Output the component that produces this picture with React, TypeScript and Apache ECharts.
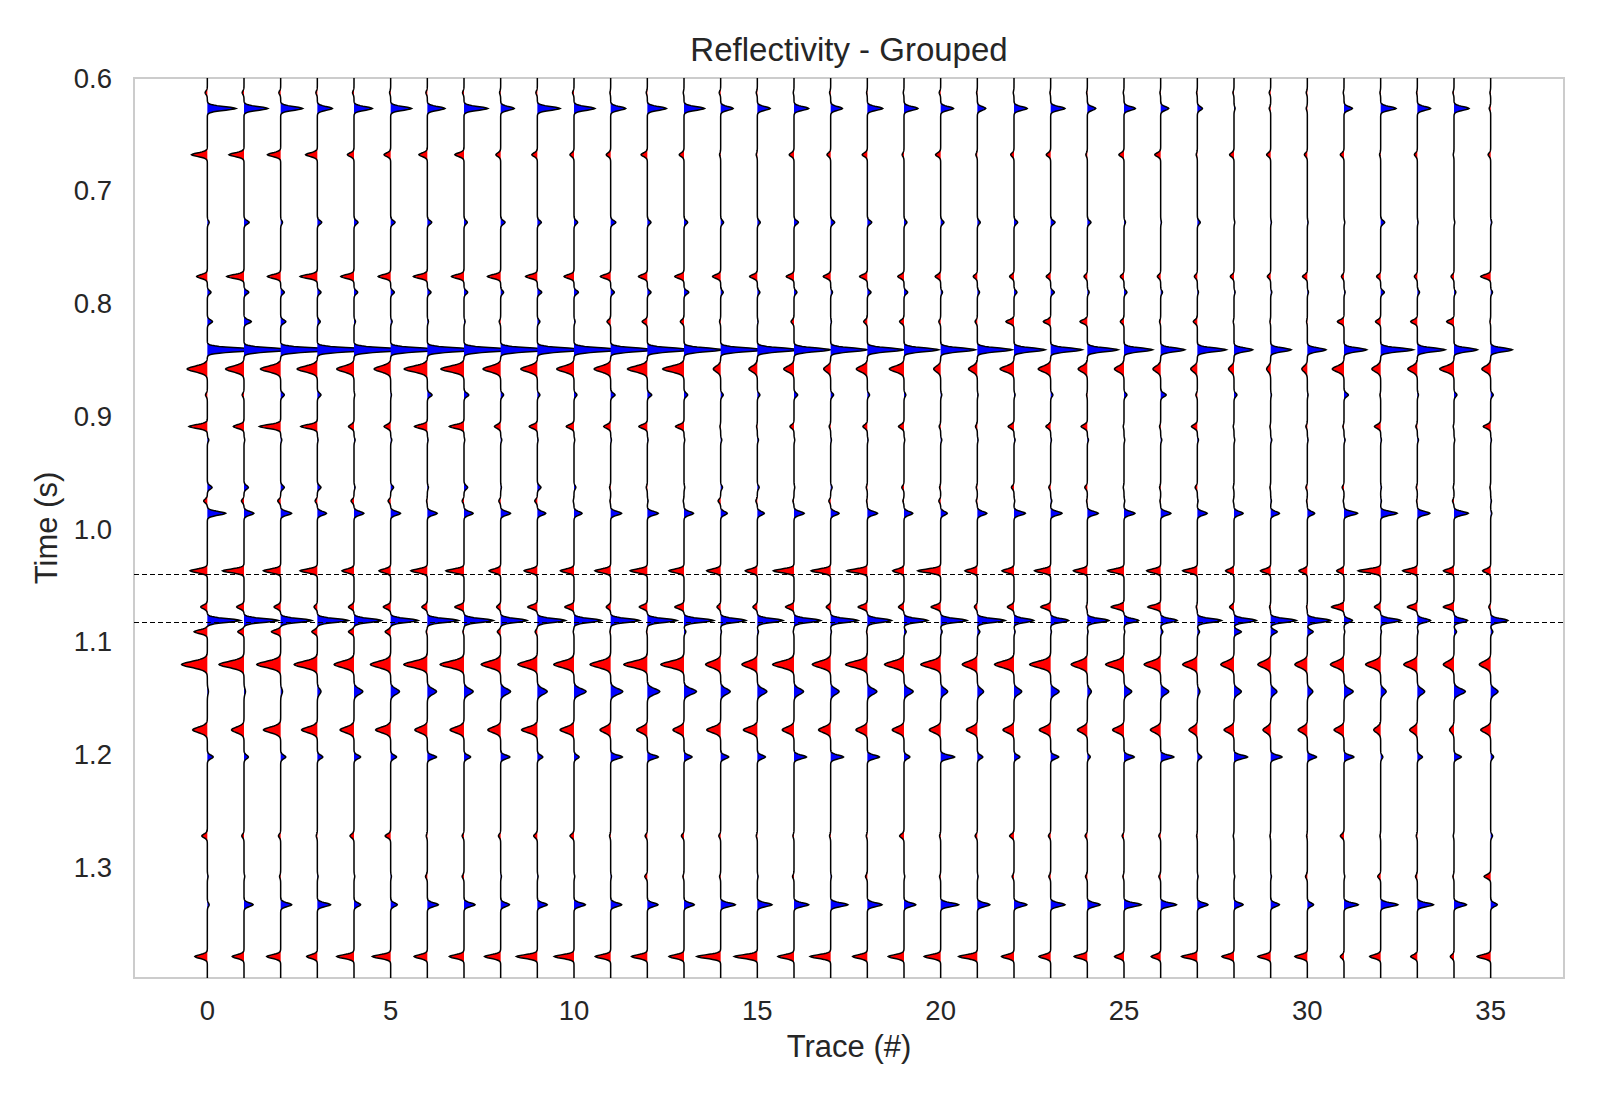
import React, { useEffect, useRef } from "react";
import * as echarts from "echarts";

// ---------- data ----------
const traceNumbers = [0,1,2,3,4,5,6,7,8,9,10,11,12,13,14,15,16,17,18,19,20,21,22,23,24,25,26,27,28,29,30,31,32,33,34,35];
const xTickValues = [0, 5, 10, 15, 20, 25, 30, 35];
const yTickValues = [0.6, 0.7, 0.8, 0.9, 1.0, 1.1, 1.2, 1.3];
const horizonTimes = [1.04, 1.0826];
const timeMin = 0.6;
const timeMax = 1.398;

// reflection times (s)
const eventTimes = [0.613, 0.627, 0.668, 0.728, 0.776, 0.790, 0.816, 0.841, 0.858, 0.881, 0.909, 0.921, 0.963, 0.975, 0.986, 1.037, 1.069, 1.081, 1.091, 1.120, 1.144, 1.178, 1.202, 1.272, 1.308, 1.333, 1.379];
// wavelet half-width per event (s)
const eventSpread = [0.0024, 0.0024, 0.0024, 0.0024, 0.0024, 0.0024, 0.0024, 0.0024, 0.0037, 0.0024, 0.0024, 0.0024, 0.0024, 0.0024, 0.0024, 0.0024, 0.0024, 0.0024, 0.0024, 0.004, 0.0037, 0.0036, 0.0024, 0.0024, 0.0024, 0.0024, 0.0024];

// amplitudes per trace (in trace-spacing units), one array per reflection
const a0613 = [-0.06,-0.05,-0.05,-0.04,-0.04,-0.03,-0.04,-0.04,-0.03,-0.04,-0.04,-0.02,-0.03,-0.02,-0.04,-0.03,-0.02,-0.03,-0.02,-0.02,-0.04,-0.02,-0.02,-0.02,-0.02,-0.02,-0.02,-0.02,-0.03,-0.04,-0.03,-0.02,-0.02,-0.02,-0.03,-0.02];
const a0627 = [0.78,0.65,0.60,0.41,0.50,0.57,0.48,0.65,0.37,0.62,0.57,0.41,0.52,0.56,0.34,0.35,0.40,0.32,0.42,0.38,0.35,0.23,0.36,0.39,0.23,0.31,0.22,0.14,0.03,-0.04,-0.03,0.23,0.42,0.36,0.41,-0.04];
const a0668 = [-0.43,-0.41,-0.36,-0.32,-0.18,-0.18,-0.23,-0.25,-0.13,-0.15,-0.11,-0.12,-0.17,-0.13,-0.03,-0.03,-0.13,-0.10,-0.14,-0.05,-0.14,-0.04,-0.09,-0.12,-0.04,-0.14,-0.16,-0.03,-0.12,-0.11,-0.08,-0.10,-0.03,-0.08,-0.02,-0.07];
const a0728 = [0.05,0.14,0.05,0.12,0.11,0.12,0.12,0.09,0.12,0.11,0.10,0.14,0.10,0.10,0.08,0.08,0.12,0.11,0.12,0.08,0.09,0.08,0.10,0.12,0.10,0.04,0.02,0.08,0.02,0.02,0.02,0.02,0.11,0.02,0.02,0.03];
const a0776 = [-0.29,-0.47,-0.36,-0.47,-0.36,-0.34,-0.38,-0.34,-0.36,-0.32,-0.27,-0.28,-0.24,-0.25,-0.22,-0.21,-0.21,-0.20,-0.21,-0.17,-0.15,-0.11,-0.12,-0.12,-0.09,-0.10,-0.09,-0.08,-0.10,-0.09,-0.13,-0.07,-0.11,-0.08,-0.08,-0.27];
const a0790 = [0.10,0.13,0.10,0.10,0.10,0.10,0.10,0.10,0.08,0.12,0.12,0.10,0.10,0.13,0.07,0.07,0.08,0.05,0.10,0.10,0.05,0.06,0.08,0.10,0.05,0.08,0.05,0.03,0.03,0.03,0.03,0.03,0.10,0.06,0.05,0.05];
const a0816 = [0.14,0.20,0.14,0.08,0.04,0.04,0.03,0.03,-0.04,0.07,0.03,-0.10,-0.14,-0.10,-0.03,0.02,-0.08,0.02,-0.10,-0.12,-0.05,-0.06,-0.22,-0.20,-0.20,-0.10,-0.03,-0.11,-0.02,-0.02,-0.02,-0.18,-0.14,-0.18,-0.20,-0.02];
const a0841 = [1.45,1.30,1.60,1.60,1.50,1.40,1.40,1.40,1.40,1.30,1.30,1.20,1.20,1.05,1.20,1.15,1.00,1.00,1.00,0.95,0.95,0.95,0.85,0.86,0.84,0.78,0.66,0.79,0.51,0.56,0.51,0.62,0.89,0.76,0.64,0.59];
const a0858 = [-0.55,-0.50,-0.55,-0.55,-0.47,-0.45,-0.63,-0.63,-0.48,-0.45,-0.47,-0.45,-0.54,-0.58,-0.20,-0.23,-0.28,-0.19,-0.30,-0.40,-0.19,-0.24,-0.38,-0.34,-0.25,-0.26,-0.21,-0.18,-0.15,-0.11,-0.15,-0.32,-0.24,-0.26,-0.39,-0.24];
const a0881 = [-0.05,-0.05,0.10,0.10,0.02,0.02,0.13,0.13,0.08,0.07,0.08,0.12,0.12,0.10,0.07,0.07,0.10,0.08,0.06,0.05,0.03,0.02,0.03,0.06,-0.02,0.08,0.15,-0.04,0.08,0.02,0.02,0.12,-0.02,0.03,0.08,0.07];
const a0909 = [-0.50,-0.29,-0.58,-0.45,-0.15,-0.18,-0.35,-0.40,-0.17,-0.22,-0.21,-0.19,-0.23,-0.23,-0.02,-0.02,-0.11,-0.04,-0.12,-0.15,-0.04,-0.05,-0.16,-0.13,-0.17,-0.02,-0.03,-0.16,-0.02,-0.02,-0.04,-0.03,-0.17,-0.04,-0.02,-0.20];
const a0921 = [0.04,0.02,0.03,0.02,0.03,0.03,0.02,0.02,0.03,0.02,0.02,0.02,0.02,0.02,0.03,0.03,0.02,0.02,0.02,0.02,0.03,0.02,0.03,0.02,0.03,0.02,0.03,0.03,0.02,0.03,0.02,0.03,0.02,0.03,0.02,0.02];
const a0963 = [0.13,0.12,0.10,0.10,0.03,0.08,0.03,0.10,0.02,0.10,0.05,-0.03,-0.03,0.02,0.05,0.05,0.02,0.04,-0.03,-0.06,-0.03,-0.03,-0.07,-0.05,-0.07,-0.02,-0.03,-0.06,-0.02,-0.02,-0.04,-0.05,0.02,-0.03,-0.02,-0.02];
const a0975 = [-0.10,-0.07,-0.08,-0.06,-0.08,-0.07,-0.02,-0.05,-0.05,-0.07,-0.02,-0.02,0.02,-0.02,-0.07,-0.04,-0.03,-0.05,-0.02,-0.03,-0.05,-0.03,0.02,0.03,-0.02,0.02,-0.02,0.02,-0.02,0.02,-0.02,-0.02,0.02,-0.02,-0.04,0.02];
const a0986 = [0.50,0.27,0.30,0.25,0.27,0.27,0.27,0.25,0.27,0.23,0.22,0.30,0.30,0.26,0.18,0.19,0.28,0.23,0.28,0.24,0.18,0.26,0.31,0.31,0.30,0.30,0.28,0.27,0.25,0.24,0.20,0.37,0.45,0.34,0.39,0.03];
const a1037 = [-0.47,-0.58,-0.47,-0.47,-0.33,-0.32,-0.45,-0.49,-0.32,-0.36,-0.37,-0.43,-0.47,-0.41,-0.38,-0.33,-0.56,-0.53,-0.56,-0.31,-0.62,-0.34,-0.33,-0.44,-0.38,-0.45,-0.38,-0.40,-0.23,-0.28,-0.23,-0.20,-0.61,-0.40,-0.29,-0.22];
const a1069 = [-0.18,-0.20,-0.18,-0.09,-0.15,-0.20,-0.15,-0.25,-0.11,-0.26,-0.25,-0.12,-0.22,-0.25,-0.10,-0.12,-0.23,-0.12,-0.25,-0.15,-0.26,-0.08,-0.18,-0.27,-0.03,-0.35,-0.35,-0.03,-0.12,-0.03,-0.02,-0.34,-0.17,-0.27,-0.29,-0.05];
const a1081 = [0.90,0.94,0.85,0.85,0.75,0.75,0.85,0.80,0.72,0.77,0.75,0.79,0.81,0.81,0.69,0.70,0.73,0.75,0.66,0.65,0.72,0.76,0.54,0.49,0.59,0.40,0.45,0.66,0.61,0.70,0.64,0.23,0.55,0.36,0.37,0.47];
const a1091 = [-0.36,-0.17,-0.25,-0.15,-0.15,-0.15,-0.03,-0.03,-0.09,-0.06,-0.02,-0.02,-0.02,0.05,0.02,0.03,-0.02,0.02,-0.02,0.06,0.04,0.07,0.03,0.02,0.02,0.02,0.06,0.06,0.20,0.18,0.16,0.02,0.02,0.02,0.07,0.06];
const a1120 = [-0.70,-0.68,-0.65,-0.63,-0.54,-0.55,-0.64,-0.65,-0.53,-0.53,-0.55,-0.56,-0.64,-0.63,-0.41,-0.42,-0.58,-0.50,-0.59,-0.53,-0.54,-0.41,-0.53,-0.57,-0.44,-0.50,-0.45,-0.40,-0.36,-0.35,-0.34,-0.37,-0.41,-0.37,-0.29,-0.31];
const a1144 = [0.03,0.04,0.05,0.10,0.24,0.24,0.25,0.25,0.27,0.27,0.33,0.33,0.34,0.34,0.26,0.26,0.26,0.23,0.26,0.25,0.19,0.17,0.21,0.23,0.11,0.21,0.22,0.07,0.20,0.17,0.15,0.25,0.15,0.20,0.31,0.20];
const a1178 = [-0.40,-0.34,-0.47,-0.43,-0.38,-0.41,-0.34,-0.38,-0.35,-0.43,-0.38,-0.29,-0.29,-0.30,-0.38,-0.38,-0.32,-0.33,-0.31,-0.32,-0.31,-0.30,-0.30,-0.31,-0.27,-0.31,-0.28,-0.23,-0.27,-0.21,-0.25,-0.27,-0.19,-0.21,-0.12,-0.27];
const a1202 = [0.16,0.12,0.14,0.15,0.18,0.16,0.25,0.18,0.25,0.15,0.14,0.32,0.30,0.22,0.22,0.22,0.34,0.35,0.33,0.16,0.38,0.15,0.16,0.22,0.08,0.28,0.36,0.12,0.37,0.31,0.25,0.27,0.06,0.14,0.20,0.08];
const a1272 = [-0.15,-0.06,-0.06,-0.03,-0.11,-0.15,-0.03,-0.05,-0.06,-0.10,-0.11,-0.03,-0.06,-0.07,-0.05,-0.03,-0.03,-0.03,-0.03,-0.12,-0.03,-0.06,-0.12,-0.06,-0.06,-0.05,-0.05,-0.02,-0.02,-0.02,-0.02,-0.10,-0.02,-0.03,-0.02,0.05];
const a1308 = [0.02,0.02,-0.03,0.02,0.02,0.02,-0.05,-0.05,0.02,0.02,0.02,0.02,-0.07,-0.03,-0.03,0.02,-0.04,0.02,-0.05,0.02,-0.03,0.02,-0.05,-0.05,-0.05,-0.03,-0.05,0.02,0.02,0.02,-0.05,0.02,-0.08,-0.05,-0.03,-0.18];
const a1333 = [0.05,0.25,0.30,0.36,0.18,0.18,0.30,0.30,0.24,0.27,0.31,0.30,0.29,0.28,0.40,0.40,0.40,0.47,0.40,0.32,0.49,0.34,0.35,0.39,0.35,0.47,0.43,0.29,0.25,0.24,0.17,0.39,0.47,0.44,0.34,0.18];
const a1379 = [-0.34,-0.32,-0.38,-0.29,-0.47,-0.50,-0.36,-0.40,-0.44,-0.57,-0.54,-0.42,-0.43,-0.41,-0.65,-0.63,-0.44,-0.56,-0.40,-0.43,-0.45,-0.51,-0.34,-0.32,-0.36,-0.26,-0.26,-0.43,-0.33,-0.35,-0.34,-0.10,-0.30,-0.18,-0.10,-0.37];

const eventAmplitudes = [a0613, a0627, a0668, a0728, a0776, a0790, a0816, a0841, a0858, a0881, a0909, a0921, a0963, a0975, a0986, a1037, a1069, a1081, a1091, a1120, a1144, a1178, a1202, a1272, a1308, a1333, a1379];

// ---------- wiggle construction ----------
const SAMPLE_STEP = 0.0005;
const WAVELET_POWER = 1.8;

function buildSampleTimes(): number[] {
  const out: number[] = [];
  const n = Math.round((timeMax - timeMin) / SAMPLE_STEP);
  for (let i = 0; i <= n; i++) out.push(+(timeMin + i * SAMPLE_STEP).toFixed(5));
  return out;
}

function buildTrace(k: number, times: number[]): number[] {
  return times.map((t) => {
    let v = 0;
    for (let e = 0; e < eventTimes.length; e++) {
      const dt = Math.abs(t - eventTimes[e]);
      if (dt > 0.03) continue;
      v += eventAmplitudes[e][k] * Math.exp(-Math.pow(dt / eventSpread[e], WAVELET_POWER));
    }
    return v;
  });
}

const FONT = "'Liberation Sans', Arial, Helvetica, sans-serif";
const TEXT = "#262626";

export default function App() {
  const ref = useRef<HTMLDivElement>(null);

  useEffect(() => {
    if (!ref.current) return;
    const chart = echarts.init(ref.current, undefined, { renderer: "svg" });
    const sampleTimes = buildSampleTimes();
    const traces = traceNumbers.map((k) => buildTrace(k, sampleTimes));
    const last = sampleTimes.length - 1;

    const option: any = {
      animation: false,
      backgroundColor: "#ffffff",
      textStyle: { fontFamily: FONT },
      graphic: [
        {
          type: "text",
          x: 849,
          y: 49,
          style: {
            text: "Reflectivity - Grouped",
            fontSize: 33,
            fontFamily: FONT,
            fill: TEXT,
            textAlign: "center",
            textVerticalAlign: "middle",
          },
        },
      ],
      grid: {
        left: 134,
        top: 78,
        width: 1430,
        height: 900,
        show: true,
        borderColor: "#cccccc",
        borderWidth: 2,
        backgroundColor: "transparent",
        containLabel: false,
      },
      xAxis: {
        type: "value",
        min: -2,
        max: 37,
        axisLine: { show: false },
        axisTick: { show: false },
        splitLine: { show: false },
        axisLabel: {
          customValues: xTickValues,
          fontSize: 27.5,
          color: TEXT,
          fontFamily: FONT,
          margin: 18,
        },
        name: "Trace (#)",
        nameLocation: "middle",
        nameGap: 53,
        nameTextStyle: { fontSize: 31, color: TEXT, fontFamily: FONT },
      },
      yAxis: {
        type: "value",
        inverse: true,
        min: timeMin,
        max: timeMax,
        axisLine: { show: false },
        axisTick: { show: false },
        splitLine: { show: false },
        axisLabel: {
          customValues: yTickValues,
          formatter: (v: number) => v.toFixed(1),
          fontSize: 27.5,
          color: TEXT,
          fontFamily: FONT,
          margin: 22,
        },
        name: "Time (s)",
        nameLocation: "middle",
        nameRotate: 90,
        nameGap: 72,
        nameTextStyle: { fontSize: 31, color: TEXT, fontFamily: FONT },
      },
      series: [
        {
          type: "custom",
          clip: true,
          data: traceNumbers.map((k) => [k, timeMin]),
          encode: { x: 0, y: 1 },
          renderItem: (params: any, api: any) => {
            const k = api.value(0) as number;
            const amps = traces[k];
            const pos: number[][] = [];
            const neg: number[][] = [];
            const line: number[][] = [];
            for (let i = 0; i < sampleTimes.length; i++) {
              const t = sampleTimes[i];
              const a = amps[i];
              line.push(api.coord([k + a, t]));
              pos.push(api.coord([k + Math.max(a, 0), t]));
              neg.push(api.coord([k + Math.min(a, 0), t]));
            }
            const b0 = api.coord([k, sampleTimes[0]]);
            const b1 = api.coord([k, sampleTimes[last]]);
            pos.push(b1, b0);
            neg.push(b1, b0);
            return {
              type: "group",
              children: [
                { type: "polygon", shape: { points: pos }, style: { fill: "#0000ff", stroke: null } },
                { type: "polygon", shape: { points: neg }, style: { fill: "#ff0000", stroke: null } },
                { type: "polyline", shape: { points: line }, style: { stroke: "#000000", lineWidth: 1.5, fill: null } },
              ],
            };
          },
        },
        {
          type: "line",
          data: [],
          silent: true,
          markLine: {
            silent: true,
            precision: 4,
            symbol: ["none", "none"],
            label: { show: false },
            lineStyle: { color: "#000000", width: 1.2, type: [5, 3] },
            data: horizonTimes.map((t) => ({ yAxis: t })),
          },
        },
      ],
    };

    chart.setOption(option);
    return () => chart.dispose();
  }, []);

  return (
    <div
      ref={ref}
      style={{ position: "fixed", left: 0, top: 0, width: 1600, height: 1100, background: "#fff" }}
    />
  );
}
